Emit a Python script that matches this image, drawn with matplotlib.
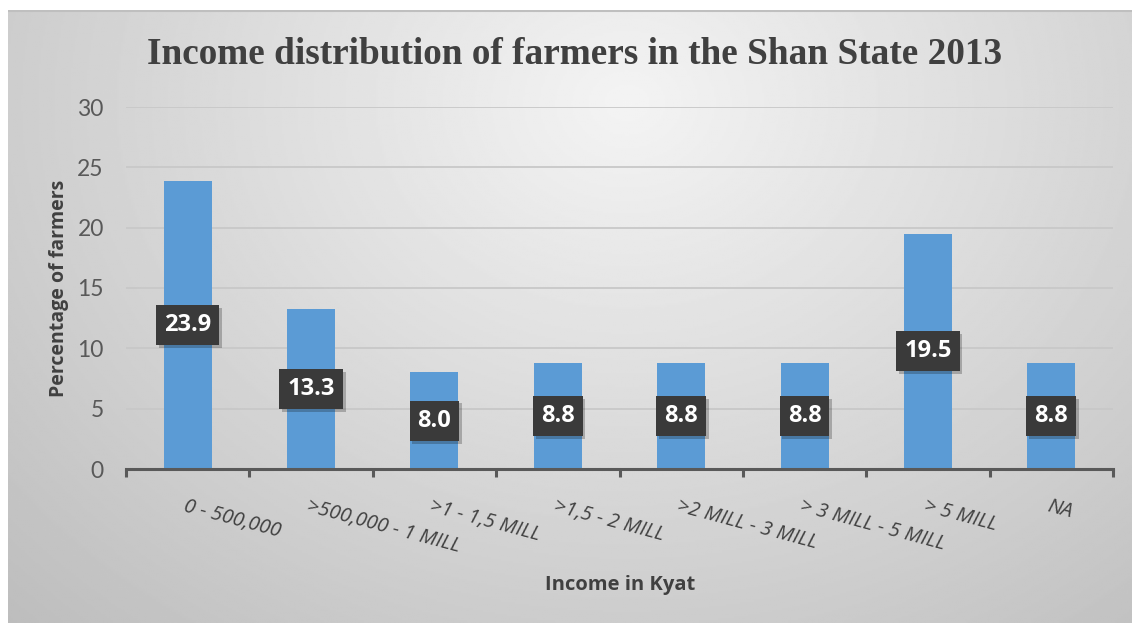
import numpy as np
import matplotlib
matplotlib.use('Agg')
import matplotlib.pyplot as plt
import matplotlib.patheffects as pe

categories = ['0 - 500,000', '>500,000 - 1 MILL', '>1 - 1,5 MILL', '>1,5 - 2 MILL',
              '>2 MILL - 3 MILL', '> 3 MILL - 5 MILL', '> 5 MILL', 'NA']
percent = [23.9, 13.3, 8.0, 8.8, 8.8, 8.8, 19.5, 8.8]
y_ticks = [0, 5, 10, 15, 20, 25, 30]

W, H = 1132, 623
fig = plt.figure(figsize=(W / 100, H / 100), dpi=100)
fig.patch.set_facecolor('white')

# chart area background with soft radial gradient
bg = fig.add_axes([8 / W, 0, 1 - 8 / W, 1 - 10 / H])
bg.set_axis_off()
yy, xx = np.mgrid[0:300, 0:560]
xx = xx / 560.0
yy = yy / 300.0
d = np.sqrt(((xx - 0.55) / 0.7) ** 2 + ((yy - 0.15) / 1.05) ** 2)
shade = 0.955 - 0.19 * np.clip(d, 0, 1.2)
bg.imshow(shade, cmap='gray', vmin=0, vmax=1, aspect='auto', extent=[0, 1, 1, 0])
bg.set_xlim(0, 1)
bg.set_ylim(1, 0)
bg.plot([0, 1], [0.002, 0.002], color='#bfbfbf', lw=1.5)

ax = fig.add_axes([126 / W, 1 - 469 / H, (1113 - 126) / W, (469 - 107) / H])
ax.patch.set_alpha(0)

x = np.arange(len(categories))
ax.bar(x, percent, width=0.39, color='#5b9bd5', zorder=3)
ax.set_xlim(-0.5, len(categories) - 0.5)
ax.set_ylim(0, 30)
ax.set_yticks(y_ticks)
ax.set_yticklabels([str(t) for t in y_ticks], fontsize=16.5, color='#595959', family='Lato')
ax.yaxis.grid(True, color='#c8c8c8', lw=1.3, zorder=0)
ax.tick_params(axis='y', length=0, pad=16)

for s in ['top', 'right', 'left']:
    ax.spines[s].set_visible(False)
ax.spines['bottom'].set_color('#595959')
ax.spines['bottom'].set_linewidth(2.2)
ax.spines['bottom'].set_zorder(4)

ax.set_xticks(np.arange(len(categories) + 1) - 0.5)
ax.set_xticklabels([])
ax.tick_params(axis='x', direction='out', length=6, width=2.2, color='#595959')

for i, lab in enumerate(categories):
    ax.annotate(lab, xy=(i, 0), xycoords='data', xytext=(-1, -20), textcoords='offset points',
                ha='left', va='top', rotation=-15, rotation_mode='anchor',
                fontsize=14.5, style='italic', color='#404040', family='Open Sans')

for i, v in enumerate(percent):
    t = ax.text(i, v / 2, f'{v:.1f}', ha='center', va='center', fontsize=17,
                fontweight='bold', color='white', family='Open Sans', zorder=6,
                bbox=dict(boxstyle='square,pad=0.34', fc='#3a3a3a', ec='none', lw=0))
    t.get_bbox_patch().set_path_effects([pe.SimplePatchShadow(offset=(2, -2), alpha=0.25),
                                         pe.Normal()])

ax.set_ylabel('Percentage of farmers', fontsize=14, fontweight='bold', color='#404040',
              family='Open Sans', labelpad=6)
fig.text(620 / W, 1 - 585 / H, 'Income in Kyat', ha='center', va='center', fontsize=14.5,
         fontweight='bold', color='#404040', family='Open Sans')
fig.text(575 / W, 1 - 55 / H, 'Income distribution of farmers in the Shan State 2013',
         ha='center', va='center', fontsize=26.8, fontweight='bold', color='#404040',
         family='Liberation Serif')

fig.savefig('out.png', dpi=100)
